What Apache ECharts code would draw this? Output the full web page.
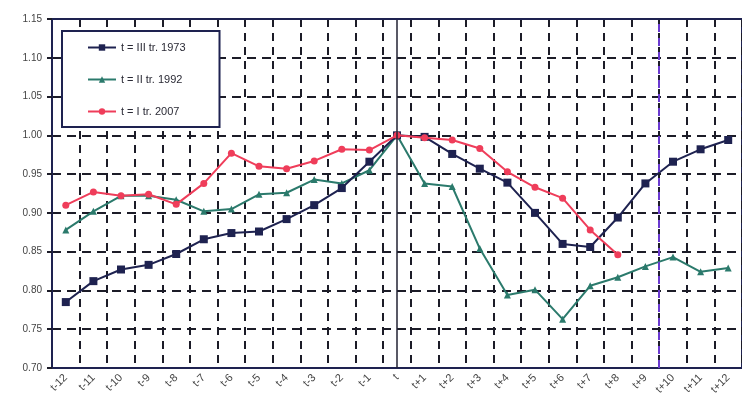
<!DOCTYPE html>
<html>
<head>
<meta charset="utf-8">
<script src="https://cdn.jsdelivr.net/npm/echarts@6/dist/echarts.min.js"></script>
<style>
html,body{margin:0;padding:0;background:#fff;}
#chart{width:742px;height:417px;}
</style>
</head>
<body>
<div id="chart"></div>
<script>
// Categories (quarters relative to the peak t)
const categories = ['t-12','t-11','t-10','t-9','t-8','t-7','t-6','t-5','t-4','t-3','t-2','t-1','t',
  't+1','t+2','t+3','t+4','t+5','t+6','t+7','t+8','t+9','t+10','t+11','t+12'];

// t = III tr. 1973
const s1973 = [0.785,0.812,0.827,0.833,0.847,0.866,0.874,0.876,0.892,0.910,0.932,0.966,1.000,
  0.998,0.976,0.957,0.939,0.900,0.860,0.856,0.894,0.938,0.966,0.982,0.994];
// t = II tr. 1992
const s1992 = [0.878,0.902,0.922,0.922,0.917,0.902,0.905,0.924,0.926,0.943,0.938,0.955,1.000,
  0.938,0.934,0.854,0.794,0.801,0.763,0.806,0.817,0.831,0.843,0.824,0.829];
// t = I tr. 2007
const s2007 = [0.910,0.927,0.922,0.924,0.911,0.938,0.977,0.960,0.957,0.967,0.982,0.981,1.000,
  0.997,0.994,0.983,0.953,0.933,0.919,0.878,0.846];

const names = ['t = III tr. 1973','t = II tr. 1992','t = I tr. 2007'];
const yTicks = { min: 0.70, max: 1.15, step: 0.05 };

const navy = '#1e2250', teal = '#2b7a6c', red = '#ef3d5a', gridCol = '#1c1c28';

const chart = echarts.init(document.getElementById('chart'));
chart.setOption({
  animation: false,
  backgroundColor: '#fff',
  textStyle: { fontFamily: 'Liberation Sans, Arial, sans-serif' },
  grid: { left: 52, top: 19, bottom: 49, width: 692, containLabel: false,
    show: true, borderColor: navy, borderWidth: 2, backgroundColor: 'transparent' },
  legend: {
    data: names,
    orient: 'vertical',
    left: 62, top: 31,
    backgroundColor: '#fff',
    borderColor: navy, borderWidth: 2,
    padding: [11, 34, 10, 25],
    itemWidth: 28, itemHeight: 8, itemGap: 21,
    textStyle: { fontSize: 11, color: '#2a2a35' }
  },
  xAxis: [{
    type: 'category',
    data: categories,
    boundaryGap: true,
    axisLine: { lineStyle: { color: navy, width: 2 } },
    axisTick: { show: false },
    axisLabel: { rotate: 45, fontSize: 11, color: '#444', margin: 8, interval: 0 },
    splitLine: { show: true, interval: 0, lineStyle: { color: gridCol, width: 2, type: [8, 6] } }
  }, {
    type: 'value', min: 0, max: 25, show: false
  }],
  yAxis: {
    type: 'value',
    min: yTicks.min, max: yTicks.max, interval: yTicks.step,
    axisLine: { show: true, lineStyle: { color: navy, width: 2 } },
    axisTick: { show: true, length: 5, lineStyle: { color: gridCol, width: 2 } },
    axisLabel: { fontSize: 10, color: '#444', margin: 10, formatter: v => v.toFixed(2) },
    splitLine: { show: true, lineStyle: { color: gridCol, width: 2, type: [9, 6] } }
  },
  series: [
    {
      name: names[0], type: 'line', data: s1973,
      symbol: 'rect', symbolSize: 8,
      lineStyle: { color: navy, width: 2 }, itemStyle: { color: navy },
      z: 3,
      markLine: {
        silent: true, symbol: 'none', label: { show: false },
        lineStyle: { color: '#222233', width: 1.5, type: 'solid' },
        data: [
          { xAxis: 't' },
          { yAxis: yTicks.max, lineStyle: { color: navy, width: 2, type: 'solid' } }
        ]
      }
    },
    {
      name: names[1], type: 'line', data: s1992,
      symbol: 'triangle', symbolSize: 7,
      lineStyle: { color: teal, width: 2 }, itemStyle: { color: teal },
      z: 2
    },
    {
      name: names[2], type: 'line', data: s2007,
      symbol: 'circle', symbolSize: 7,
      lineStyle: { color: red, width: 2 }, itemStyle: { color: red },
      z: 4
    },
    {
      type: 'line', xAxisIndex: 1, data: [], silent: true,
      markLine: {
        silent: true, symbol: 'none', label: { show: false },
        lineStyle: { color: '#6a3ad0', width: 2, type: [8, 6] },
        data: [{ xAxis: 22 }]
      }
    }
  ]
});
</script>
</body>
</html>
